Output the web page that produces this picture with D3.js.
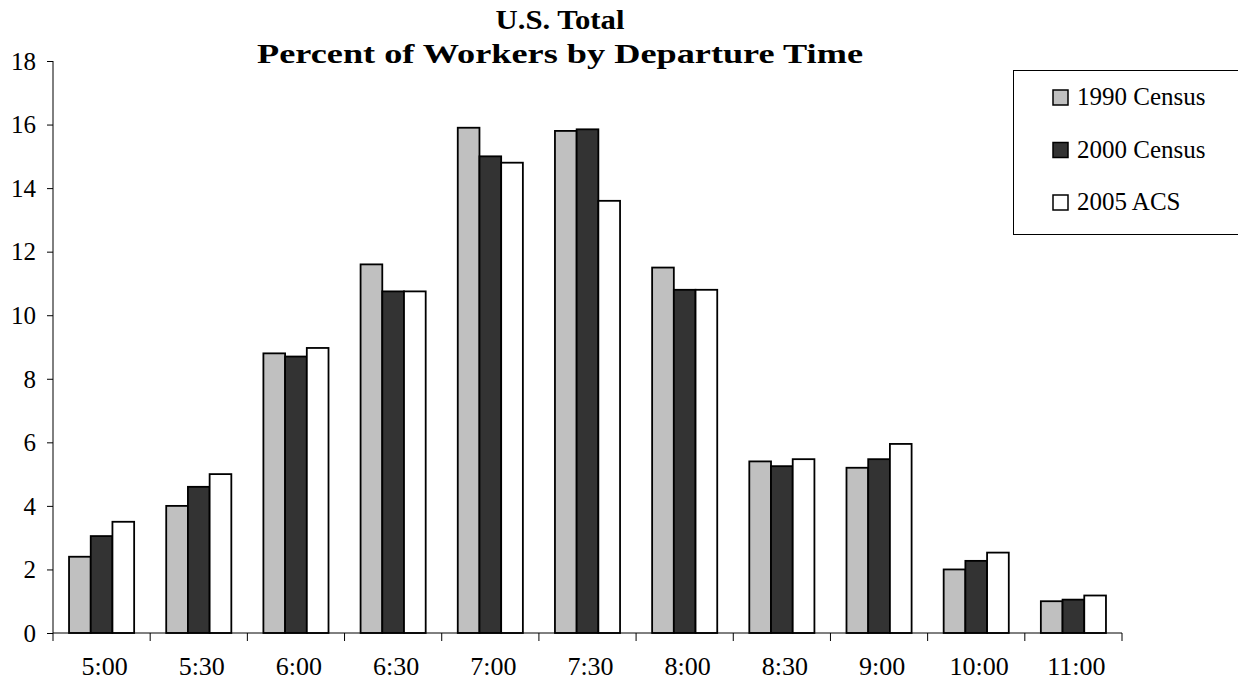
<!DOCTYPE html>
<html>
<head>
<meta charset="utf-8">
<script src="https://cdn.jsdelivr.net/npm/d3@7"></script>
<style>
  body { margin: 0; background: #fff; }
  svg text { font-family: "Liberation Serif", "Times New Roman", serif !important; fill: #000; }
</style>
</head>
<body>
<script>
// departure times along the x axis
var times = ["5:00", "5:30", "6:00", "6:30", "7:00", "7:30", "8:00", "8:30", "9:00", "10:00", "11:00"];
var seriesNames = ["1990 Census", "2000 Census", "2005 ACS"];
var seriesColors = ["#c0c0c0", "#333333", "#ffffff"];

// percent of workers
var census1990 = [2.4, 4.0, 8.8, 11.6, 15.9, 15.8, 11.5, 5.4, 5.2, 2.0, 1.0];
var census2000 = [3.05, 4.6, 8.7, 10.75, 15.0, 15.85, 10.8, 5.25, 5.47, 2.27, 1.05];
var acs2005 = [3.5, 5.0, 8.97, 10.75, 14.8, 13.6, 10.8, 5.47, 5.95, 2.53, 1.18];

var yTicks = [0, 2, 4, 6, 8, 10, 12, 14, 16, 18];

var W = 1238, H = 690;
var plotL = 53, plotR = 1122, plotT = 61, plotB = 633;

var svg = d3.select("body").append("svg")
    .attr("width", W)
    .attr("height", H)
    .attr("font-family", "Liberation Serif, serif");

var x0 = d3.scaleBand()
    .domain(times)
    .range([plotL, plotR])
    .paddingInner(0.33)
    .paddingOuter(0.165);

var x1 = d3.scaleBand()
    .domain(seriesNames)
    .range([0, x0.bandwidth()]);

var y = d3.scaleLinear()
    .domain([0, 18])
    .range([plotB, plotT]);

var rows = times.map(function(t, i) {
    return {time: t, vals: [census1990[i], census2000[i], acs2005[i]]};
});

// bars
var group = svg.selectAll(".grp").data(rows)
  .enter().append("g")
    .attr("class", "grp")
    .attr("transform", function(d) { return "translate(" + x0(d.time) + ",0)"; });

group.selectAll("rect")
    .data(function(d) { return d.vals.map(function(v, k) { return {name: seriesNames[k], v: v, k: k}; }); })
  .enter().append("rect")
    .attr("x", function(d) { return x1(d.name); })
    .attr("y", function(d) { return y(d.v); })
    .attr("width", x1.bandwidth())
    .attr("height", function(d) { return y(0) - y(d.v); })
    .attr("fill", function(d) { return seriesColors[d.k]; })
    .attr("stroke", "#000")
    .attr("stroke-width", 1.8);

// y axis
var yAxis = svg.append("g")
    .attr("transform", "translate(" + plotL + ",0)")
    .call(d3.axisLeft(y).tickValues(yTicks).tickSize(6).tickPadding(11));
yAxis.attr("font-family", null).attr("font-size", null);
yAxis.select(".domain").attr("d", "M0," + plotT + "V" + plotB).attr("stroke", "#000");
yAxis.selectAll("text")
    .style("font-size", "25px")
    .attr("dy", "0.33em");

// x axis with ticks between categories
var xAxis = svg.append("g")
    .attr("transform", "translate(0," + plotB + ")");
xAxis.append("line")
    .attr("x1", plotL).attr("x2", plotR)
    .attr("stroke", "#000");
var bounds = times.map(function(t) { return x0(t) - x0.step() * x0.paddingInner() / 2; }).concat([plotR]);
bounds[0] = plotL;
xAxis.selectAll(".tk").data(bounds)
  .enter().append("line")
    .attr("class", "tk")
    .attr("x1", function(d) { return d; })
    .attr("x2", function(d) { return d; })
    .attr("y1", 0).attr("y2", 8)
    .attr("stroke", "#000");
xAxis.selectAll(".lbl").data(times)
  .enter().append("text")
    .attr("class", "lbl")
    .attr("x", function(d) { return x0(d) + x0.bandwidth() / 2 + 3; })
    .attr("y", 42)
    .attr("text-anchor", "middle")
    .style("font-size", "26px")
    .text(function(d) { return d; });

// title (the original is stretched sideways)
svg.append("text")
    .attr("x", 560).attr("y", 29)
    .attr("text-anchor", "middle")
    .attr("textLength", 129)
    .attr("lengthAdjust", "spacingAndGlyphs")
    .style("font-size", "28px").style("font-weight", "bold")
    .text("U.S. Total");
svg.append("text")
    .attr("x", 560).attr("y", 63)
    .attr("text-anchor", "middle")
    .attr("textLength", 606)
    .attr("lengthAdjust", "spacingAndGlyphs")
    .style("font-size", "28px").style("font-weight", "bold")
    .text("Percent of Workers by Departure Time");

// legend
var legend = svg.append("g");
legend.append("rect")
    .attr("x", 1013.5).attr("y", 70.5)
    .attr("width", 240).attr("height", 164)
    .attr("fill", "#fff")
    .attr("stroke", "#000");
var item = legend.selectAll(".item").data(seriesNames)
  .enter().append("g")
    .attr("class", "item")
    .attr("transform", function(d, i) { return "translate(1053," + (105 + i * 52.5) + ")"; });
item.append("rect")
    .attr("x", 0).attr("y", -15)
    .attr("width", 15).attr("height", 15)
    .attr("fill", function(d, i) { return seriesColors[i]; })
    .attr("stroke", "#000")
    .attr("stroke-width", 1.5);
item.append("text")
    .attr("x", 24).attr("y", 0)
    .style("font-size", "25px")
    .text(function(d) { return d; });
</script>
</body>
</html>
